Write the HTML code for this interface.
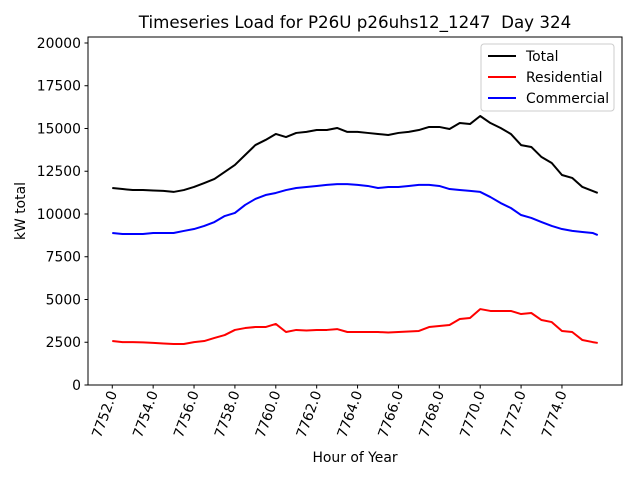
<!DOCTYPE html>
<html><head><meta charset="utf-8"><style>
body{margin:0;background:#fff}
svg{display:block;font-family:"DejaVu Sans","Liberation Sans",sans-serif}
</style></head><body>
<svg id="chart" width="640" height="480" viewBox="0 0 640 480" xmlns="http://www.w3.org/2000/svg">
<rect width="640" height="480" fill="#fff"/>
<text x="355" y="28" font-size="16.7" text-anchor="middle">Timeseries Load for P26U p26uhs12_1247&#160; Day 324</text>
<g id="plot"></g>
<rect x="88" y="37" width="534" height="348" fill="none" stroke="#000" stroke-width="1"/>
<text transform="translate(25,211) rotate(-90)" font-size="13.9" text-anchor="middle">kW total</text>
<text x="355" y="462" font-size="13.9" text-anchor="middle">Hour of Year</text>
<g>
<rect x="481" y="44" width="133" height="67" rx="3" fill="#fff" fill-opacity="0.8" stroke="#ccc"/>
<g><line x1="488" y1="56" x2="516" y2="56" stroke="#000" stroke-width="2"/><text x="526" y="61" font-size="13.9">Total</text></g>
<g><line x1="488" y1="77" x2="516" y2="77" stroke="#f00" stroke-width="2"/><text x="526" y="82" font-size="13.9">Residential</text></g>
<g><line x1="488" y1="98" x2="516" y2="98" stroke="#00f" stroke-width="2"/><text x="526" y="103" font-size="13.9">Commercial</text></g>
</g>
</svg>
<script>
const hours=[7752,7752.5,7753,7753.5,7754,7754.5,7755,7755.5,7756,7756.5,7757,7757.5,7758,7758.5,7759,7759.5,7760,7760.5,7761,7761.5,7762,7762.5,7763,7763.5,7764,7764.5,7765,7765.5,7766,7766.5,7767,7767.5,7768,7768.5,7769,7769.5,7770,7770.5,7771,7771.5,7772,7772.5,7773,7773.5,7774,7774.5,7775,7775.5,7775.75];
const total=[11520,11460,11400,11400,11370,11350,11290,11400,11580,11810,12050,12460,12870,13450,14030,14330,14680,14500,14740,14800,14910,14910,15030,14800,14800,14740,14680,14620,14740,14800,14910,15090,15090,14970,15320,15260,15730,15320,15030,14680,14030,13920,13330,12980,12280,12110,11580,11350,11230];
const residential=[2570,2510,2510,2490,2460,2430,2400,2400,2510,2570,2750,2920,3220,3330,3390,3390,3570,3100,3220,3190,3220,3220,3270,3100,3100,3100,3100,3070,3100,3130,3160,3390,3450,3510,3860,3920,4440,4330,4330,4330,4150,4210,3800,3680,3160,3100,2630,2510,2460];
const commercial=[8890,8830,8830,8830,8890,8890,8890,9010,9120,9300,9530,9880,10060,10530,10880,11110,11230,11400,11520,11580,11640,11700,11750,11750,11700,11640,11520,11580,11580,11640,11700,11700,11640,11460,11400,11350,11290,10990,10640,10350,9940,9770,9530,9300,9120,9010,8950,8890,8770];
const yTicks=[0,2500,5000,7500,10000,12500,15000,17500,20000];
const xTicks=[7752,7754,7756,7758,7760,7762,7764,7766,7768,7770,7772,7774];
const X0=88,X1=622,Y0=385,Y1=37,xmin=7750.8125,xmax=7776.9375,ymin=0,ymax=20350;
const sx=v=>X0+(v-xmin)/(xmax-xmin)*(X1-X0);
const sy=v=>Y0-(v-ymin)/(ymax-ymin)*(Y0-Y1);
const NS='http://www.w3.org/2000/svg';
const g=document.getElementById('plot');
function mk(t,a){const e=document.createElementNS(NS,t);for(const k in a)e.setAttribute(k,a[k]);g.appendChild(e);return e;}
yTicks.forEach(v=>{
  const l=mk('line',{x1:X0-3.5,x2:X0,y1:sy(v),y2:sy(v),stroke:'#000'});
  
  
  const t=mk('text',{x:X0-7,y:sy(v)+5,'font-size':'13.9','text-anchor':'end'});
  
  
  t.textContent=v;
});
xTicks.forEach(v=>{
  const x=sx(v);
  const l=mk('line',{x1:x,x2:x,y1:Y0,y2:Y0+3.5,stroke:'#000'});
  
  
  const t=mk('text',{transform:`translate(${x+5},${Y0+8}) rotate(-70)`,'font-size':'13.9','text-anchor':'end'});
  
  
  t.textContent=v.toFixed(1);
});
function series(arr,color,name){
  const d=arr.map((v,i)=>(i?'L':'M')+sx(hours[i]).toFixed(2)+','+sy(v).toFixed(2)).join('');
  const p=mk('path',{d:d,fill:'none',stroke:color,'stroke-width':2,'stroke-linejoin':'round'});
  
  
}
series(total,'#000','total-line');
series(residential,'#f00','residential-line');
series(commercial,'#00f','commercial-line');
</script>
</body></html>
